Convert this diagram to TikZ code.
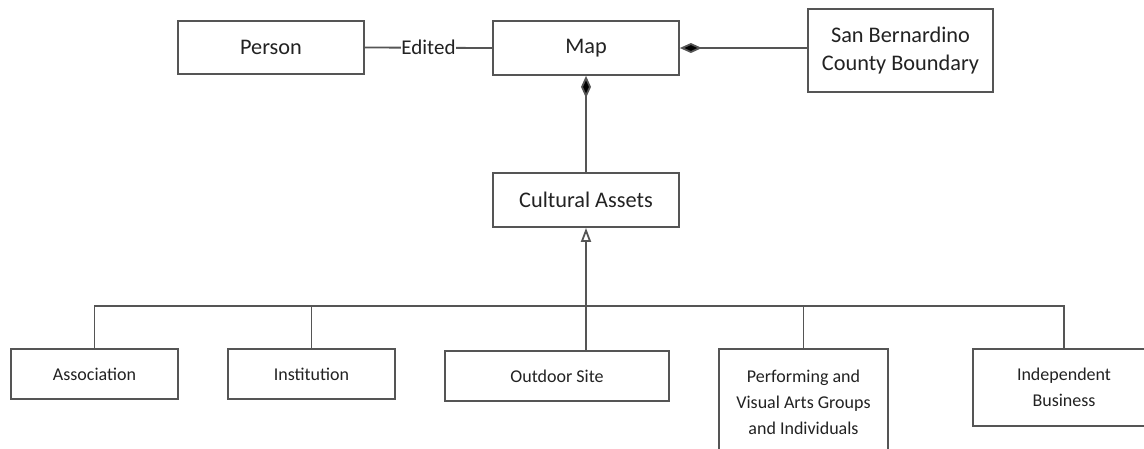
\documentclass[tikz,border=0pt]{standalone}
\usepackage{fontspec}
\setmainfont{Carlito}
\usetikzlibrary{arrows.meta}
\definecolor{edge}{HTML}{555555}
\definecolor{ink}{HTML}{222222}
\begin{document}
\begin{tikzpicture}[x=1pt,y=-1pt,
  lbl/.style={text=ink, font=\fontsize{22.3}{28}\selectfont},
  small/.style={font=\fontsize{18}{26}\selectfont},
  box/.style={draw=edge, line width=1.8pt, fill=white, lbl, align=center, inner sep=0pt},
  link/.style={draw=edge, line width=1.8pt},
  compose/.style={link, -{Diamond[length=22pt,width=10pt,fill=black]}},
  inherit/.style={link, -{Triangle[open,length=14pt,width=10pt,fill=white]}}]
\useasboundingbox (0,0) rectangle (1144,448);

% top row
\node[box, minimum width=186pt, minimum height=53pt] (person) at (271,47.5) {Person};
\node[box, minimum width=186pt, minimum height=54pt] (map) at (586,48) {Map};
\node[box, minimum width=185pt, minimum height=83pt] (sbcb) at (900.5,50.5) {San Bernardino\\County Boundary};

% middle
\node[box, minimum width=186pt, minimum height=54pt] (assets) at (586,200) {Cultural Assets};

% bottom row
\node[box, small, minimum width=167pt, minimum height=50pt] (assoc) at (94.5,374) {Association};
\node[box, small, minimum width=167pt, minimum height=50pt] (inst) at (311.5,374) {Institution};
\node[box, small, minimum width=224pt, minimum height=50pt] (outdoor) at (557,376) {Outdoor Site};
\node[box, small, minimum width=169pt, minimum height=106pt] (perf) at (803.5,402) {Performing and\\Visual Arts Groups\\and Individuals};
\node[box, small, minimum width=182pt, minimum height=77pt] (indep) at (1064,387.5) {Independent\\Business};

% associations
\draw[link] (person.east) -- node[fill=white, inner sep=0.5pt, lbl, font=\fontsize{21}{26}\selectfont] {Edited} (map.west);
\draw[compose] (map.east -| sbcb.west) -- (map.east);
\draw[compose] (assets.north) -- (map.south);

% generalisation tree
\coordinate (hub) at (586,306);
\draw[link] (assoc.north) |- (hub);
\draw[link] (indep.north) |- (hub);
\draw[link] (inst.north) -- (inst.north |- hub);
\draw[link] (perf.north) -- (perf.north |- hub);
\draw[inherit] (hub |- outdoor.north) -- (assets.south);
\end{tikzpicture}
\end{document}
